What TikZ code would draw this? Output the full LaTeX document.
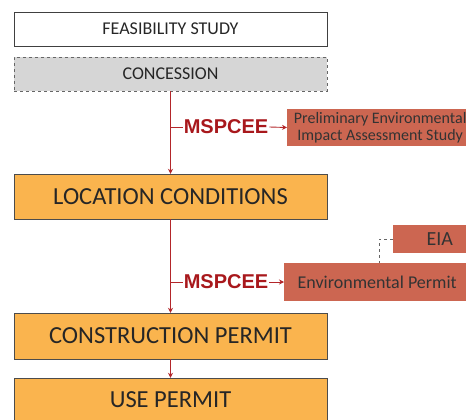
\documentclass[tikz,border=0pt]{standalone}
\usepackage{fontspec}
\setmainfont{Carlito}
\newfontfamily\arialbold{Liberation Sans}[BoldFont={* Bold}]
\usetikzlibrary{arrows.meta, positioning, shadows}

\definecolor{stageorange}{HTML}{FAB44E}
\definecolor{envsalmon}{HTML}{CC6651}
\definecolor{flowred}{HTML}{B3262A}
\definecolor{agencyred}{HTML}{A8181C}

\tikzset{
  plainbox/.style={draw=black!75, fill=white, minimum width=313pt, minimum height=34pt,
    font=\fontsize{18}{20}\selectfont, text=black!85},
  concbox/.style={plainbox, dashed, draw=black!60, fill=black!16},
  stagebox/.style={draw=black!70, fill=stageorange, minimum width=313pt,
    font=\fontsize{24.5}{28}\selectfont, text=black!85,
    drop shadow={shadow xshift=1.2pt, shadow yshift=-1.2pt, opacity=.45}},
  envbox/.style={fill=envsalmon, text=black!80, align=center, anchor=west},
  agency/.style={font=\arialbold\bfseries\fontsize{20}{22}\selectfont, text=agencyred, inner sep=1pt},
  flow/.style={draw=flowred, line width=0.9pt},
  tip/.style={-{Stealth[length=5pt,width=5pt]}}
}

\begin{document}
\begin{tikzpicture}[x=1pt, y=1pt]
	     \clip (0,0) rectangle (466,-420);

	     % nodes %
		 \node[plainbox] (feas) at (170.5,-29) {FEASIBILITY STUDY};
		 \node[concbox] (conc) at (170.5,-74) {CONCESSION};
		 \node[stagebox, minimum height=45pt] (loc) at (170.5,-196.5) {LOCATION CONDITIONS};
		 \node[stagebox, minimum height=46pt] (cons) at (170.5,-336) {CONSTRUCTION PERMIT};
		 \node[stagebox, minimum height=44pt] (use) at (170.5,-400) {USE PERMIT};

		 \node[agency] (msp1) at (226,-127) {MSPCEE};
		 \node[agency] (msp2) at (226,-282) {MSPCEE};

		 \node[envbox, minimum width=186pt, minimum height=35pt, font=\fontsize{16}{17}\selectfont] (pre) at (287,-127.5)
		   {Preliminary Environmental\\Impact Assessment Study};
		 \node[envbox, minimum width=186pt, minimum height=38pt, font=\fontsize{18}{20}\selectfont] (env) at (284,-282)
		   {Environmental Permit};
		 \node[envbox, minimum width=93pt, minimum height=28pt, font=\fontsize{20}{22}\selectfont] (eia) at (393,-239)
		   {EIA};
		 \coordinate (envtop) at (379,-263);

		 % edges %
		 \draw[flow, tip] (conc.south) -- (loc.north);
		 \draw[flow, tip] (loc.south) -- (cons.north);
		 \draw[flow, tip] (cons.south) -- (use.north);
		 \draw[flow] (msp1.west -| conc.south) -- (msp1.west);
		 \draw[flow] (msp2.west -| loc.south) -- (msp2.west);
		 \draw[flow, tip] (msp1.east) -- (pre.west);
		 \draw[flow, tip] (msp2.east) -- (env.west);
		 \draw[dashed, black!60, line width=0.8pt] (eia.west) -| (envtop);
	     \end{tikzpicture}
\end{document}
